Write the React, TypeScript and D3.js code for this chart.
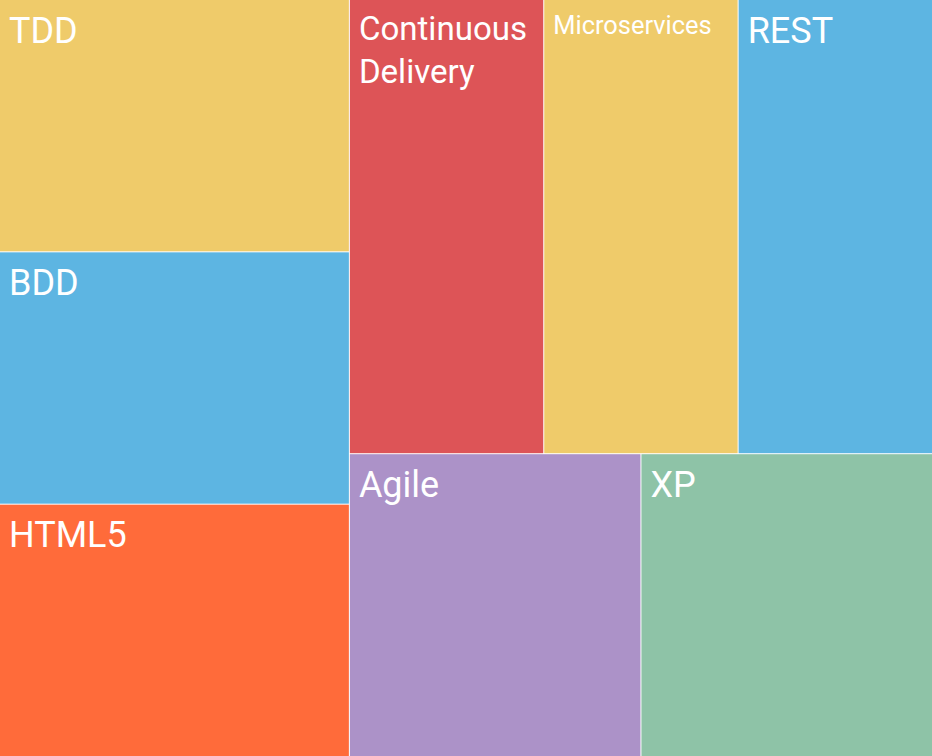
import { useEffect, useRef } from "react";
import * as d3 from "d3";

const names = ["TDD", "BDD", "HTML5", "Continuous Delivery", "Microservices", "REST", "Agile", "XP"];
const values = [1, 1, 1, 1, 1, 1, 1, 1];
const colors = ["#EFCB6A", "#5DB5E2", "#FF6B3A", "#DD5457", "#EFCB6A", "#5DB5E2", "#AC92C8", "#8EC3A7"];

export default function App() {
  const svgRef = useRef<SVGSVGElement>(null);
  const width = 932;
  const height = 756;

  useEffect(() => {
    document.body.style.margin = "0";
    const svg = d3.select(svgRef.current!);
    svg.selectAll("*").remove();

    const data = names.map((n, i) => ({ name: n, value: values[i], color: colors[i] }));
    const root = d3
      .hierarchy<any>({ children: data })
      .sum((d) => d.value || 0);
    d3.treemap<any>().size([width, height]).tile(d3.treemapSquarify).paddingInner(1)(root);

    const cells = svg
      .selectAll("g")
      .data(root.leaves() as d3.HierarchyRectangularNode<any>[])
      .join("g")
      .attr("transform", (d) => `translate(${d.x0},${d.y0})`);

    cells
      .append("rect")
      .attr("width", (d) => d.x1 - d.x0)
      .attr("height", (d) => d.y1 - d.y0)
      .attr("fill", (d) => d.data.color);

    cells.each(function (d) {
      const w = d.x1 - d.x0 - 18;
      const words: string[] = d.data.name.split(" ");
      const whole = d.data.name.length * 0.53 * 36 <= w;
      const lines = whole ? [d.data.name] : words;
      const longest = d3.max(lines, (l) => l.length)!;
      const fs = Math.min(36, w / (longest * 0.53));
      const t = d3
        .select(this)
        .append("text")
        .attr("fill", "white")
        .attr("font-family", "Roboto, sans-serif")
        .attr("font-size", fs);
      lines.forEach((l, i) => {
        t.append("tspan")
          .attr("x", 9)
          .attr("y", fs * 0.85 + 12 + i * fs * 1.3)
          .text(l);
      });
    });
  }, []);

  return <svg ref={svgRef} width={width} height={height} style={{ display: "block" }} />;
}
